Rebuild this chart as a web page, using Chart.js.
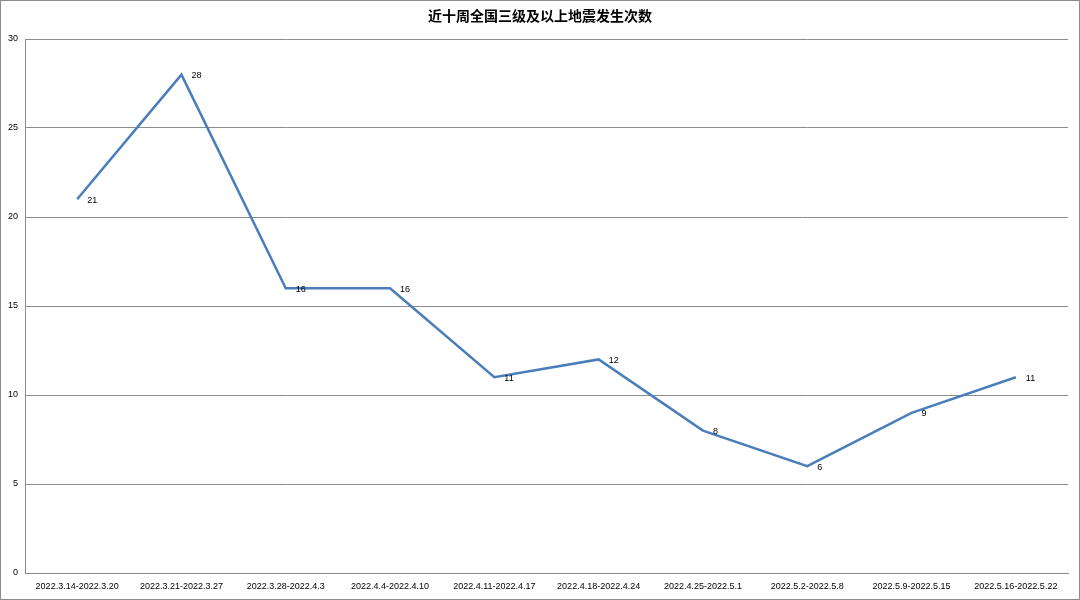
<!DOCTYPE html>
<html><head><meta charset="utf-8">
<script src="https://cdn.jsdelivr.net/npm/chart.js@4/dist/chart.umd.min.js"></script>
<style>
html,body{margin:0;padding:0;background:#fff;}
#wrap{position:relative;width:1080px;height:600px;}
canvas{position:absolute;left:0;top:0;}
#frame{position:absolute;left:0;top:0;width:1080px;height:600px;box-sizing:border-box;border:1px solid #8c8c8c;pointer-events:none;}
</style></head>
<body><div id="wrap"><canvas id="c" width="1080" height="600" style="width:1080px;height:600px"></canvas><div id="frame"></div></div>
<script>
const titleText = '近十周全国三级及以上地震发生次数';
const categories = ['2022.3.14-2022.3.20','2022.3.21-2022.3.27','2022.3.28-2022.4.3','2022.4.4-2022.4.10','2022.4.11-2022.4.17','2022.4.18-2022.4.24','2022.4.25-2022.5.1','2022.5.2-2022.5.8','2022.5.9-2022.5.15','2022.5.16-2022.5.22'];
const counts = [21,28,16,16,11,12,8,6,9,11];
const yTicks = [0,5,10,15,20,25,30];

const labelPlugin = {
  id:'labels',
  afterDatasetsDraw(chart){
    const ctx = chart.ctx;
    const meta = chart.getDatasetMeta(0);
    ctx.save();
    ctx.font = '9px "Liberation Sans", Arial, sans-serif';
    ctx.fillStyle = '#000';
    ctx.textAlign = 'left';
    ctx.textBaseline = 'middle';
    meta.data.forEach((p,i)=>{
      ctx.fillText(String(counts[i]), p.x+10, p.y+1);
    });
    ctx.restore();
  }
};
const titlePlugin = {
  id:'ttl',
  afterDraw(chart){
    const ctx = chart.ctx;
    ctx.save();
    ctx.font = 'bold 14px "Noto Sans CJK SC", sans-serif';
    ctx.fillStyle = '#000';
    ctx.textAlign = 'center';
    ctx.textBaseline = 'middle';
    ctx.fillText(titleText, 540, 16);
    ctx.restore();
  }
};

new Chart(document.getElementById('c'), {
  type:'line',
  data:{labels:categories, datasets:[{data:counts, borderColor:'#4a7ebb', borderWidth:2.5, pointRadius:0, tension:0, fill:false}]},
  options:{
    responsive:false, animation:false, devicePixelRatio:1,
    layout:{padding:{left:0,right:12,top:39,bottom:0}},
    plugins:{legend:{display:false}, title:{display:false}, tooltip:{enabled:false}},
    scales:{
      x:{
        offset:true,
        grid:{display:false, drawTicks:false},
        border:{display:true, color:'#8c8c8c', width:1},
        ticks:{font:{family:'"Liberation Sans", Arial, sans-serif', size:9}, color:'#000', padding:8, maxRotation:0, autoSkip:false},
        afterFit(s){ s.height = 27; }
      },
      y:{
        min:0, max:30,
        afterBuildTicks(s){ s.ticks = yTicks.map(v=>({value:v})); },
        grid:{color:'#8c8c8c', lineWidth:1, drawTicks:false},
        border:{display:true, color:'#8c8c8c', width:1},
        ticks:{font:{family:'"Liberation Sans", Arial, sans-serif', size:9}, color:'#000', padding:7},
        afterFit(s){ s.width = 25; }
      }
    }
  },
  plugins:[labelPlugin, titlePlugin]
});
</script>
</body></html>
